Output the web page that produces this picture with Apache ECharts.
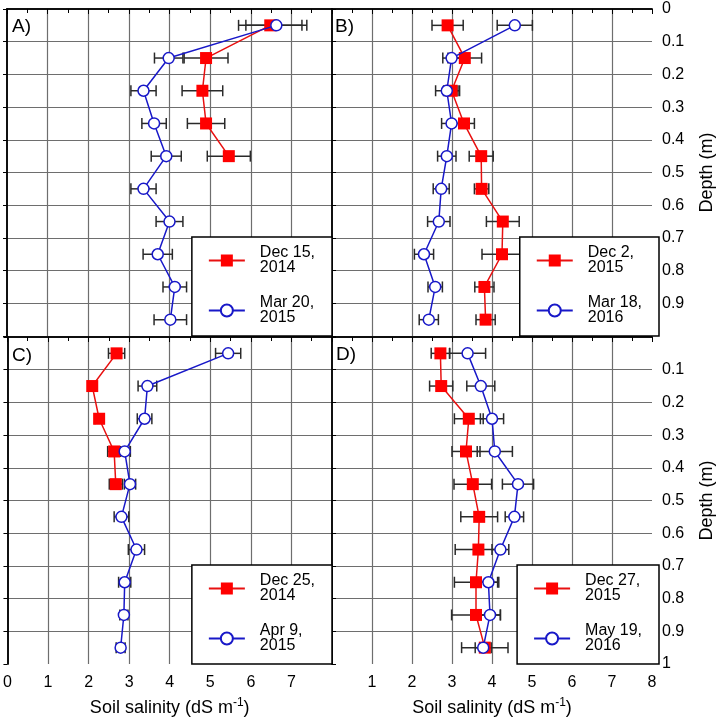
<!DOCTYPE html>
<html><head><meta charset="utf-8">
<script src="https://cdn.jsdelivr.net/npm/echarts@6/dist/echarts.min.js"></script>
<style>html,body{margin:0;padding:0;background:#fff}#c{width:717px;height:719px}</style>
</head><body><div id="c"></div>
<script>
// ---------- data ----------
const depths = [0.05, 0.15, 0.25, 0.35, 0.45, 0.55, 0.65, 0.75, 0.85, 0.95];
const xTickLabels = ['0', '1', '2', '3', '4', '5', '6', '7', '8'];
const depthTickLabels = ['0', '0.1', '0.2', '0.3', '0.4', '0.5', '0.6', '0.7', '0.8', '0.9', '1'];
const panelLabels = ['A)', 'B)', 'C)', 'D)'];

const aRedName = 'Dec 15, 2014';
const aRed = [6.48, 4.90, 4.81, 4.90, 5.46];
const aRedErr = [0.78, 0.54, 0.50, 0.46, 0.53];
const aBlueName = 'Mar 20, 2015';
const aBlue = [6.63, 3.98, 3.36, 3.62, 3.92, 3.36, 4.00, 3.71, 4.13, 4.02];
const aBlueErr = [0.75, 0.35, 0.31, 0.30, 0.37, 0.31, 0.33, 0.36, 0.29, 0.40];

const bRedName = 'Dec 2, 2015';
const bRed = [2.89, 3.32, 2.99, 3.30, 3.73, 3.74, 4.27, 4.25, 3.81, 3.84];
const bRedErr = [0.39, 0.42, 0.20, 0.26, 0.30, 0.18, 0.41, 0.50, 0.24, 0.24];
const bBlueName = 'Mar 18, 2016';
const bBlue = [4.57, 2.99, 2.87, 2.99, 2.87, 2.73, 2.67, 2.30, 2.58, 2.42];
const bBlueErr = [0.44, 0.22, 0.28, 0.25, 0.23, 0.20, 0.28, 0.24, 0.18, 0.24];

const cRedName = 'Dec 25, 2014';
const cRed = [2.69, 2.09, 2.26, 2.63, 2.67];
const cRedErr = [0.20, 0.10, 0.10, 0.16, 0.16];
const cBlueName = 'Apr 9, 2015';
const cBlue = [5.44, 3.45, 3.38, 2.89, 3.02, 2.81, 3.18, 2.89, 2.87, 2.79];
const cBlueErr = [0.31, 0.23, 0.18, 0.14, 0.14, 0.18, 0.20, 0.15, 0.10, 0.11];

const dRedName = 'Dec 27, 2015';
const dRed = [2.71, 2.73, 3.42, 3.35, 3.52, 3.68, 3.66, 3.60, 3.60, 3.82];
const dRedErr = [0.23, 0.29, 0.36, 0.35, 0.47, 0.46, 0.58, 0.54, 0.61, 0.58];
const dBlueName = 'May 19, 2016';
const dBlue = [3.39, 3.72, 4.00, 4.07, 4.65, 4.56, 4.21, 3.91, 3.95, 3.78];
const dBlueErr = [0.45, 0.35, 0.29, 0.44, 0.39, 0.23, 0.21, 0.26, 0.26, 0.20];

// ---------- layout / style ----------
const FONT = "'Liberation Sans', Arial, Helvetica, sans-serif";
const RED = '#ff0000';
const RED_LINE = '#e81010';
const BLUE = '#1818c8';
const GRIDC = '#6e6e6e';
const W = 717, H = 719;

const panels = [
  {box: {left: 7, top: 9, width: 325, height: 327}, side: 'left', bottomRow: false,
   red: aRed, redErr: aRedErr, redName: aRedName, blue: aBlue, blueErr: aBlueErr, blueName: aBlueName,
   title: {left: 12, top: 17}},
  {box: {left: 332, top: 9, width: 327, height: 327}, side: 'right', bottomRow: false,
   red: bRed, redErr: bRedErr, redName: bRedName, blue: bBlue, blueErr: bBlueErr, blueName: bBlueName,
   title: {left: 335, top: 17}},
  {box: {left: 7, top: 337, width: 325, height: 327}, side: 'left', bottomRow: true,
   red: cRed, redErr: cRedErr, redName: cRedName, blue: cBlue, blueErr: cBlueErr, blueName: cBlueName,
   title: {left: 12, top: 346}},
  {box: {left: 332, top: 337, width: 327, height: 327}, side: 'right', bottomRow: true,
   red: dRed, redErr: dRedErr, redName: dRedName, blue: dBlue, blueErr: dBlueErr, blueName: dBlueName,
   title: {left: 336, top: 345}}
];

function fmtTick(v, labels, step) {
  const i = Math.round(v / step);
  return labels[i] !== undefined ? labels[i] : '';
}

function errRender(params, api) {
  const x = api.value(0), y = api.value(1), e = api.value(2);
  const p1 = api.coord([x - e, y]);
  const p2 = api.coord([x + e, y]);
  const h = 5.5;
  const style = {stroke: '#2a2a2a', lineWidth: 1.5, fill: null};
  return {type: 'group', children: [
    {type: 'line', shape: {x1: p1[0], y1: p1[1], x2: p2[0], y2: p2[1]}, style: style},
    {type: 'line', shape: {x1: p1[0], y1: p1[1] - h, x2: p1[0], y2: p1[1] + h}, style: style},
    {type: 'line', shape: {x1: p2[0], y1: p2[1] - h, x2: p2[0], y2: p2[1] + h}, style: style}
  ]};
}

const grid = [], xAxis = [], yAxis = [], series = [], legend = [], title = [];
const axisLine = {show: true, lineStyle: {color: '#000', width: 1.5}};

panels.forEach(function (p, i) {
  grid.push(Object.assign({containLabel: false}, p.box));
  const isRight = p.side === 'right';
  // bottom x axis (primary)
  xAxis.push({
    gridIndex: i, type: 'value', min: 0, max: 8, interval: 1, position: 'bottom',
    axisLine: axisLine,
    axisTick: {show: true, inside: false, length: 5, lineStyle: {color: '#000', width: 1}},
    minorTick: {show: true, splitNumber: 2, length: 4, lineStyle: {color: '#000', width: 1}},
    splitLine: {show: true, showMinLine: false, showMaxLine: false, lineStyle: {color: GRIDC, width: 1.2}},
    axisLabel: {
      show: p.bottomRow, margin: 11, fontSize: 16, color: '#000', fontFamily: FONT,
      formatter: function (v) {
        if (!isRight && v > 7.5) return '';
        if (isRight && v < 0.5) return '';
        return fmtTick(v, xTickLabels, 1);
      }
    },
    name: p.bottomRow ? '{a|Soil salinity (dS m}{s|-1}{a|)}' : '',
    nameLocation: 'middle', nameGap: 33,
    nameTextStyle: {
      color: '#000', fontSize: 18, fontFamily: FONT,
      rich: {
        a: {fontSize: 18, fontFamily: FONT, color: '#000', lineHeight: 22},
        s: {fontSize: 12, fontFamily: FONT, color: '#000', verticalAlign: 'top', lineHeight: 13}
      }
    }
  });
  // top x axis (border only)
  xAxis.push({
    gridIndex: i, type: 'value', min: 0, max: 8, interval: 1, position: 'top',
    axisLine: axisLine, axisTick: {show: false}, axisLabel: {show: false}, splitLine: {show: false}
  });
  // left y axis (primary)
  yAxis.push({
    gridIndex: i, type: 'value', inverse: true, min: 0, max: 1, interval: 0.1, position: 'left',
    axisLine: axisLine,
    axisTick: {show: !isRight, inside: false, length: 4, lineStyle: {color: '#000'}},
    axisLabel: {show: false},
    splitLine: {show: true, showMinLine: false, showMaxLine: false, lineStyle: {color: GRIDC, width: 1.2}}
  });
  // right y axis (labels for right column)
  yAxis.push({
    gridIndex: i, type: 'value', inverse: true, min: 0, max: 1, interval: 0.1, position: 'right',
    axisLine: axisLine,
    axisTick: {show: isRight, inside: false, length: 4, lineStyle: {color: '#000'}},
    axisLabel: {
      show: isRight, margin: 10, fontSize: 16, color: '#000', fontFamily: FONT, padding: [0, 0, 4, 0],
      formatter: function (v) {
        if (!p.bottomRow && v > 0.95) return '';
        if (p.bottomRow && v < 0.05) return '';
        return fmtTick(v, depthTickLabels, 0.1);
      }
    },
    splitLine: {show: false},
    name: isRight ? 'Depth (m)' : '',
    nameLocation: 'middle', nameGap: 46, nameRotate: 90,
    nameTextStyle: {color: '#000', fontSize: 18, fontFamily: FONT}
  });

  const xi = 2 * i, yi = 2 * i;
  const redPts = p.red.map(function (v, k) { return [v, depths[k]]; });
  const bluePts = p.blue.map(function (v, k) { return [v, depths[k]]; });
  const redErrPts = p.red.map(function (v, k) { return [v, depths[k], p.redErr[k]]; });
  const blueErrPts = p.blue.map(function (v, k) { return [v, depths[k], p.blueErr[k]]; });

  series.push({type: 'custom', xAxisIndex: xi, yAxisIndex: yi, renderItem: errRender,
    data: redErrPts, encode: {x: 0, y: 1}, z: 1, silent: true});
  series.push({type: 'custom', xAxisIndex: xi, yAxisIndex: yi, renderItem: errRender,
    data: blueErrPts, encode: {x: 0, y: 1}, z: 1, silent: true});
  series.push({type: 'line', name: p.redName, xAxisIndex: xi, yAxisIndex: yi, data: redPts,
    symbol: 'rect', symbolSize: 12, itemStyle: {color: RED},
    lineStyle: {color: RED_LINE, width: 1.5}, z: 3});
  series.push({type: 'line', name: p.blueName, xAxisIndex: xi, yAxisIndex: yi, data: bluePts,
    symbol: 'circle', symbolSize: 11, itemStyle: {color: '#fff', borderColor: BLUE, borderWidth: 1.5},
    lineStyle: {color: BLUE, width: 1.5}, z: 4});

  legend.push({
    data: [p.redName, p.blueName], orient: 'vertical',
    right: W - (p.box.left + p.box.width), bottom: H - (p.box.top + p.box.height),
    padding: [8, 17, 10, 16], itemGap: 19, itemWidth: 36, itemHeight: 15,
    backgroundColor: '#fff', borderColor: '#000', borderWidth: 1.5, borderRadius: 0,
    selectedMode: false,
    formatter: function (n) { return n.replace(', ', ',\n'); },
    textStyle: {fontSize: 16, lineHeight: 15, color: '#000', fontFamily: FONT, padding: [0, 0, 0, 10]}
  });

  title.push({text: panelLabels[i], left: p.title.left, top: p.title.top, padding: 0,
    textStyle: {fontSize: 19, fontWeight: 'normal', color: '#000', fontFamily: FONT}});
});

const chart = echarts.init(document.getElementById('c'), null, {renderer: 'canvas'});
chart.setOption({
  animation: false,
  backgroundColor: '#fff',
  title: title, grid: grid, xAxis: xAxis, yAxis: yAxis, series: series, legend: legend
});
</script>
</body></html>
